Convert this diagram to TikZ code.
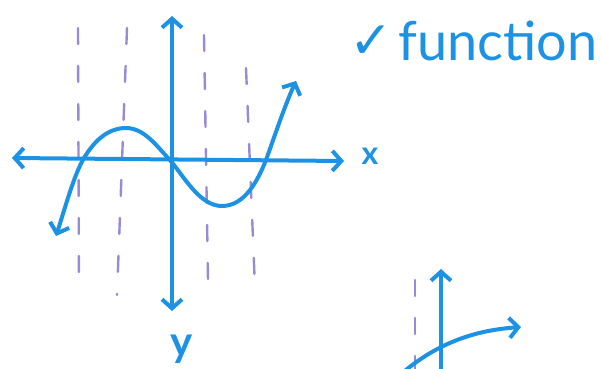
\documentclass[tikz,border=0pt]{standalone}
\usepackage{fontspec}
\setmainfont{Lato}
\newfontfamily\symfont{DejaVu Sans}
\usetikzlibrary{arrows.meta}
\definecolor{pen}{RGB}{28,146,228}
\definecolor{dash}{RGB}{118,100,200}
\tikzset{
  pen/.style={draw=pen, line width=4pt, line cap=round, line join=round},
  barb/.style={-{Straight Barb[length=9pt,width=20pt,line width=4pt]}},
  dbarb/.style={{Straight Barb[length=9pt,width=20pt,line width=4pt]}-{Straight Barb[length=9pt,width=20pt,line width=4pt]}},
  guide/.style={draw=dash, line width=2.4pt, line cap=round, dash pattern=on 16pt off 22pt, opacity=0.75},
  lbl/.style={text=pen, inner sep=0pt}
}
\begin{document}
\begin{tikzpicture}[x=1pt,y=-1pt]
\useasboundingbox (0,0) rectangle (602,369);
% guide lines
\draw[guide] (78,28) -- (79,290);
\draw[guide] (127,28) -- (117,295);
\draw[guide] (204,35) -- (208,280);
\draw[guide] (246,68) -- (255,288);
\draw[guide] (415,280) -- (415,369);
% axes
\coordinate (xl) at (12,158);
\coordinate (xr) at (344,161);
\coordinate (yt) at (172,16);
\coordinate (yb) at (172,311);
\draw[pen,dbarb] (xl) -- (xr);
\draw[pen,dbarb] (yt) -- (yb);
% curve
\draw[pen,dbarb] (56,236) .. controls (66,205) and (74,175) .. (84,158)
  .. controls (96,138) and (110,128) .. (126,128)
  .. controls (145,128) and (158,148) .. (170,160)
  .. controls (185,178) and (200,206) .. (222,206)
  .. controls (245,206) and (258,180) .. (266,160)
  .. controls (275,135) and (285,105) .. (296,81);
% labels
\node[lbl,font=\bfseries\fontsize{32}{32}\selectfont] (x) at (370,156) {x};
\node[lbl,font=\bfseries\fontsize{42}{42}\selectfont] (y) at (182,349) {y};
\node[lbl,font=\symfont\fontsize{52}{52}\selectfont] (chk) at (371,42) {✓};
\node[lbl,font=\fontsize{54}{54}\selectfont,anchor=base west] (fn) at (398,61) {function};
% second graph
\coordinate (v2t) at (441,269);
\coordinate (v2b) at (441,375);
\draw[pen,barb] (v2b) -- (v2t);
\draw[pen,barb] (400,375) .. controls (440,340) and (480,330) .. (521,327);
\end{tikzpicture}
\end{document}
